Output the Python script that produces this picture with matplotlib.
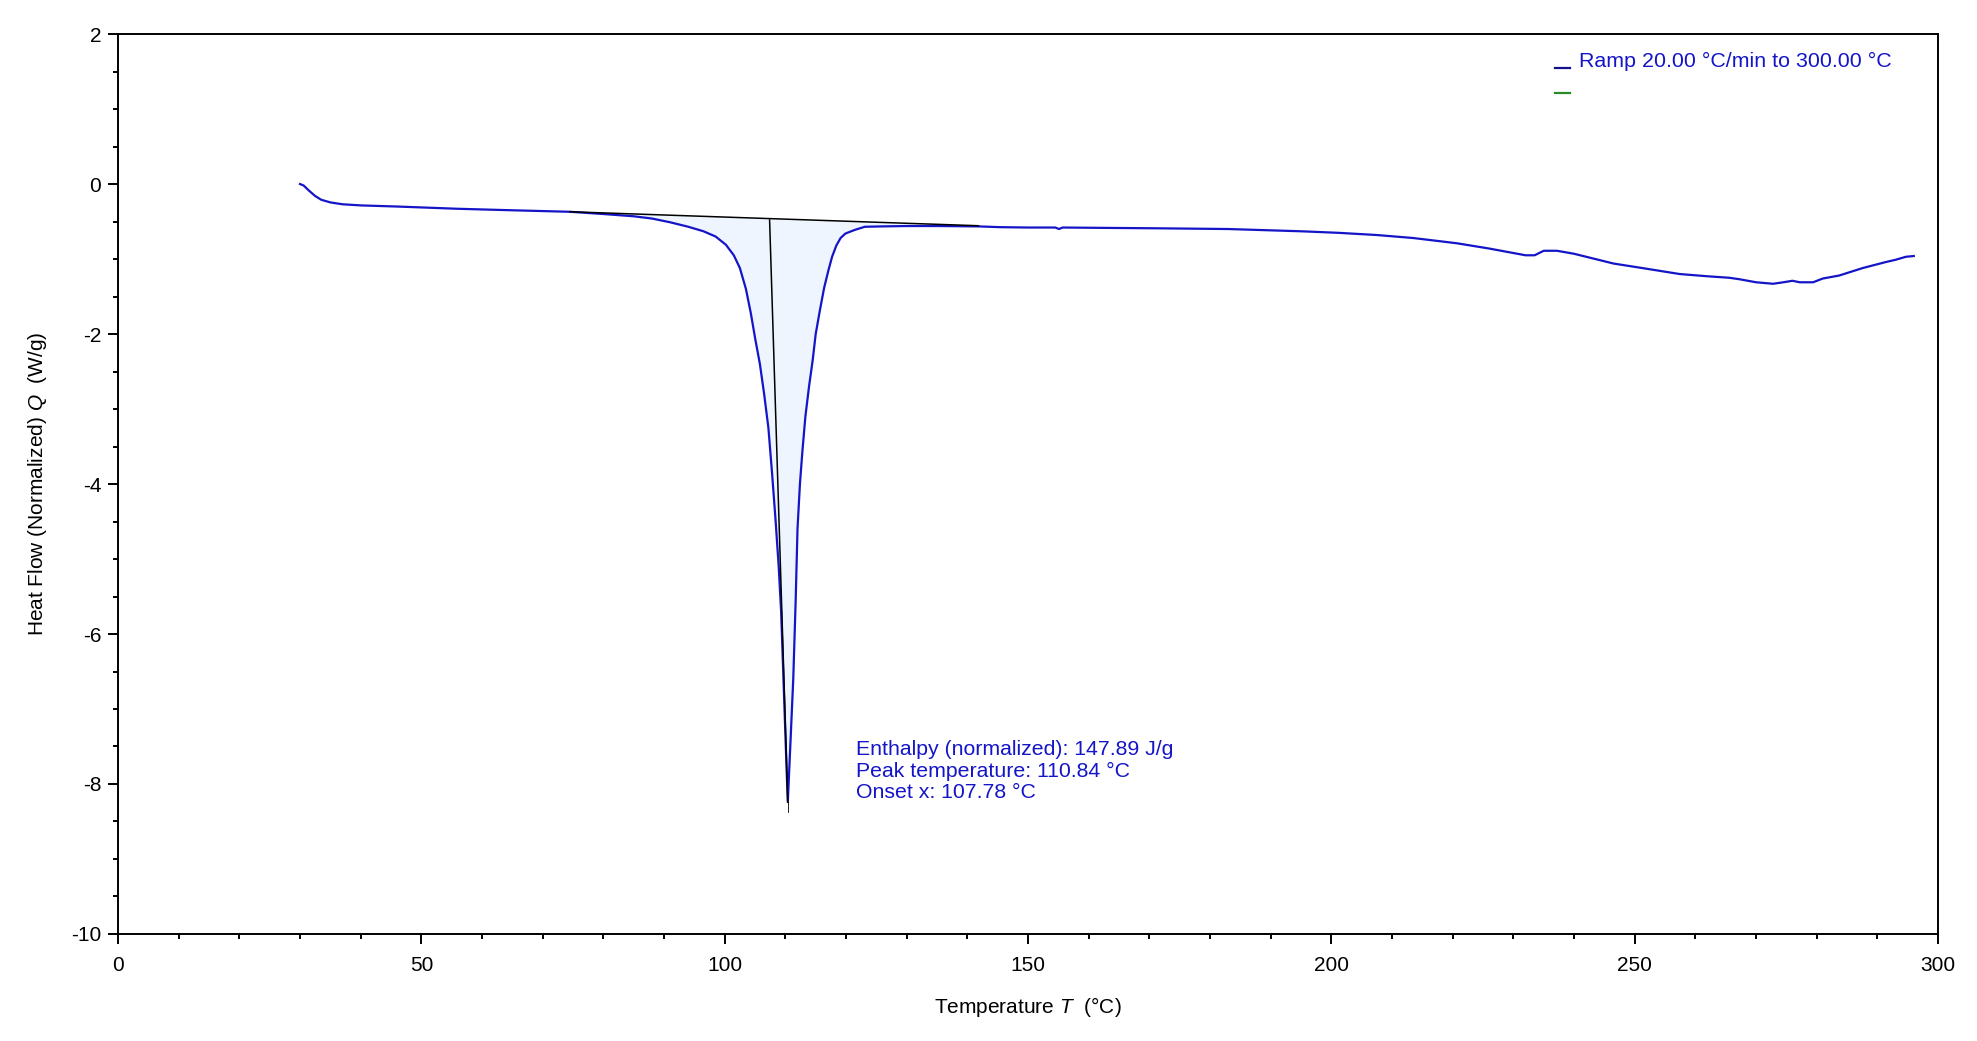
import numpy as np
import matplotlib
matplotlib.use('Agg')
import matplotlib.pyplot as plt

plt.rcParams['font.family'] = ['Liberation Sans', 'DejaVu Sans']
plt.rcParams['axes.unicode_minus'] = False
plt.rcParams['mathtext.fontset'] = 'custom'
plt.rcParams['mathtext.rm'] = 'Liberation Sans'
plt.rcParams['mathtext.it'] = 'Liberation Sans:italic'

# DSC curve: temperature (°C) and heat flow (W/g)
temp = [30.0, 30.6, 31.5, 32.5, 33.5, 35.0, 37.0, 40.0, 46.0, 56.0, 65.0, 74.5,
        80.0, 85.0, 88.0, 91.0, 94.0, 96.5, 98.5, 100.2, 101.5, 102.5, 103.5,
        104.3, 105.0, 105.8, 106.5, 107.2, 107.8, 108.4, 108.9, 109.3, 109.6,
        109.9, 110.2, 110.4, 110.7, 111.0, 111.3, 111.7, 112.0, 112.4, 112.8,
        113.3, 113.9, 114.5, 115.0, 115.7, 116.4, 117.1, 117.7, 118.4, 119.1,
        119.9, 121.5, 123.1, 126.0, 130.0, 135.0, 141.8, 145.4, 150.0, 154.5,
        155.1, 155.7, 163.0, 171.0, 183.0, 189.0, 195.0, 201.0, 207.5, 213.5,
        220.7, 226.0, 232.0, 233.5, 235.0, 237.2, 240.0, 246.5, 252.0, 257.4,
        262.0, 265.6, 267.3, 270.0, 272.8, 274.5, 276.0, 277.2, 279.4, 281.0,
        283.7, 287.6, 291.4, 293.0, 294.7, 296.0]
heat_flow = [0.0, -0.02, -0.09, -0.16, -0.21, -0.245, -0.27, -0.285, -0.30, -0.33,
             -0.35, -0.37, -0.40, -0.43, -0.46, -0.51, -0.57, -0.63, -0.70, -0.81,
             -0.95, -1.12, -1.40, -1.72, -2.05, -2.40, -2.80, -3.25, -3.85, -4.50,
             -5.10, -5.70, -6.40, -7.10, -7.80, -8.24, -7.70, -7.15, -6.60, -5.55,
             -4.60, -4.00, -3.57, -3.10, -2.70, -2.35, -2.00, -1.68, -1.38, -1.15,
             -0.97, -0.82, -0.72, -0.66, -0.61, -0.57, -0.565, -0.56, -0.56, -0.565,
             -0.575, -0.58, -0.58, -0.60, -0.58, -0.585, -0.59, -0.60, -0.615,
             -0.63, -0.65, -0.68, -0.72, -0.79, -0.86, -0.95, -0.95, -0.89, -0.89,
             -0.93, -1.06, -1.13, -1.20, -1.23, -1.25, -1.27, -1.31, -1.33, -1.31,
             -1.29, -1.31, -1.31, -1.26, -1.22, -1.12, -1.04, -1.01, -0.97, -0.96]

# integration baseline and onset tangent
base_t = [74.5, 141.8]
base_q = [-0.37, -0.556]
tangent_t = [107.4, 110.4]
tangent_q = [-0.48, -8.24]
peak_t = 110.4
peak_q = [-8.24, -8.37]

legend_label = 'Ramp 20.00 °C/min to 300.00 °C'
results = ['Enthalpy (normalized): 147.89 J/g',
           'Peak temperature: 110.84 °C',
           'Onset x: 107.78 °C']

blue = '#1414c8'

fig = plt.figure(figsize=(19.77, 10.41), dpi=100)
ax = fig.add_axes([0.0597, 0.1028, 0.9206, 0.8645])

t = np.array(temp)
q = np.array(heat_flow)
mask = (t >= base_t[0]) & (t <= base_t[1])
base_line = np.interp(t[mask], base_t, base_q)
ax.fill_between(t[mask], q[mask], base_line, color='#eef5fe', lw=0, zorder=1)

ax.plot(t, q, color=blue, lw=1.6, zorder=3)
ax.plot(base_t, base_q, color='black', lw=1.1, zorder=4)
ax.plot(tangent_t, tangent_q, color='black', lw=1.1, zorder=4)
ax.plot([peak_t, peak_t], peak_q, color='black', lw=0.6, zorder=4)

ax.text(121.6, -7.83, '\n'.join(results), color=blue, fontsize=15.3,
        va='center', ha='left', linespacing=1.15)

# legend drawn by hand, like the instrument software
ax.plot([0.7896, 0.7978], [0.962, 0.962], transform=ax.transAxes,
        color='#10108c', lw=1.6)
ax.plot([0.7896, 0.7978], [0.934, 0.934], transform=ax.transAxes,
        color='#2a8a2a', lw=1.6)
ax.text(0.8027, 0.969, legend_label, transform=ax.transAxes, color=blue,
        fontsize=15.4, va='center', ha='left')

ax.set_xlim(0, 300)
ax.set_ylim(-10, 2)
ax.set_xticks(np.arange(0, 301, 50))
ax.set_xticks(np.arange(0, 301, 10), minor=True)
ax.set_yticks(np.arange(-10, 3, 2))
ax.set_yticks(np.arange(-10, 2.1, 0.5), minor=True)

for s in ax.spines.values():
    s.set_linewidth(1.4)
ax.tick_params(which='major', direction='out', length=7, width=1.4,
               labelsize=15)
ax.tick_params(which='minor', direction='out', length=3.5, width=1.4)
ax.tick_params(axis='y', pad=5)
ax.tick_params(axis='x', pad=9)

ax.set_xlabel('Temperature $\\it{T}$  (°C)', fontsize=15, labelpad=14)
ax.set_ylabel('Heat Flow (Normalized) $\\it{Q}$  (W/g)', fontsize=15, labelpad=16)

fig.savefig('out.png', dpi=100)
